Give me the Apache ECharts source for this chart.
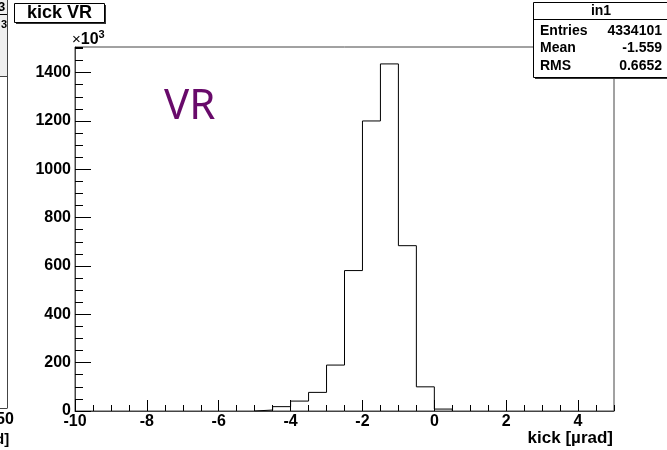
<!DOCTYPE html>
<html><head><meta charset="utf-8">
<script src="https://cdn.jsdelivr.net/npm/echarts@6/dist/echarts.min.js"></script>
<style>html,body{margin:0;padding:0;background:#fff}#c{width:667px;height:450px}</style>
</head><body><div id="c"></div>
<script>
// ---- data (counts in units of 10^3) ----
const binLowEdges = [-5, -4.5, -4, -3.5, -3, -2.5, -2, -1.5, -1, -0.5, 0];
const binWidth = 0.5;
const counts = [4, 18, 41, 77, 190, 581, 1200, 1436, 684, 100, 8];
const xTickLabels = [-10, -8, -6, -4, -2, 0, 2, 4];
const yTickLabels = [0, 200, 400, 600, 800, 1000, 1200, 1400];
const histTitle = 'kick VR';
const xTitle = 'kick [\u00b5rad]';
const statsTitle = 'in1';
const statsNames = ['Entries', 'Mean', 'RMS'];
const statsValues = ['4334101', '-1.559', '0.6652'];

// step points for histogram outline
const stepPts = [[binLowEdges[0], 0]];
for (let i = 0; i < counts.length; i++) stepPts.push([binLowEdges[i], counts[i]]);
stepPts.push([binLowEdges[binLowEdges.length - 1] + binWidth, 0]);

const F = '"Liberation Sans", Arial, sans-serif';
const LF = '"Liberation Sans", Arial, sans-serif';
const chart = echarts.init(document.getElementById('c'), null, {renderer: 'canvas'});

const statsGraphics = [];
statsNames.forEach((n, i) => {
  statsGraphics.push({type: 'text', left: 540, top: 24 + i * 17.5, z: 101,
    style: {text: n, font: 'bold 14px ' + F, fill: '#000'}});
  statsGraphics.push({type: 'text', right: 5, top: 24 + i * 17.5, z: 101,
    style: {text: statsValues[i], font: 'bold 14px ' + F, fill: '#000', textAlign: 'right'}});
});

const fmtX = v => (xTickLabels.indexOf(v) >= 0 ? String(v) : '');
const fmtY = v => (yTickLabels.indexOf(v) >= 0 ? String(v) : '');

chart.setOption({
  animation: false,
  grid: {left: 75, right: 53, top: 47, bottom: 39, show: true, borderColor: '#444', borderWidth: 1, backgroundColor: '#fff'},
  xAxis: [{
    type: 'value', min: -10, max: 5, interval: 2, position: 'bottom',
    axisLine: {onZero: false, lineStyle: {color: '#444', width: 1}},
    axisTick: {inside: true, length: 11, lineStyle: {color: '#000'}},
    axisLabel: {showMaxLabel: false, formatter: fmtX, color: '#000', fontFamily: LF, fontWeight: 'bold', fontSize: 16, margin: 3},
    splitLine: {show: false}
  }, {
    type: 'value', min: -10, max: 5, interval: 0.5, position: 'bottom',
    axisLine: {show: false, onZero: false},
    axisTick: {inside: true, length: 6, lineStyle: {color: '#000'}},
    axisLabel: {show: false}, splitLine: {show: false}
  }],
  yAxis: [{
    type: 'value', min: 0, max: 1506, interval: 200, position: 'left',
    axisLine: {show: true, onZero: false, lineStyle: {color: '#444', width: 1}},
    axisTick: {show: true, inside: true, length: 16, lineStyle: {color: '#000'}},
    axisLabel: {showMaxLabel: false, formatter: fmtY, color: '#000', fontFamily: LF, fontWeight: 'bold', fontSize: 16, margin: 4},
    splitLine: {show: false}
  }, {
    type: 'value', min: 0, max: 1506, interval: 50, position: 'left',
    axisLine: {show: false, onZero: false},
    axisTick: {show: true, inside: true, length: 8, lineStyle: {color: '#000'}},
    axisLabel: {show: false}, splitLine: {show: false}
  }],
  series: [{
    type: 'line', xAxisIndex: 0, yAxisIndex: 0, step: 'end', data: stepPts,
    symbol: 'none', lineStyle: {color: '#000', width: 1}, z: 5
  }],
  graphic: [
    // neighbouring pad fragment on the left
    {type: 'rect', shape: {x: 0, y: 0, width: 8, height: 76}, style: {fill: '#efefef'}, z: 90},
    {type: 'line', shape: {x1: 0, y1: 14.5, x2: 8, y2: 14.5}, style: {stroke: '#000', lineWidth: 1}, z: 91},
    {type: 'line', shape: {x1: 0, y1: 76.5, x2: 7.5, y2: 76.5}, style: {stroke: '#444', lineWidth: 1}, z: 91},
    {type: 'line', shape: {x1: 7.5, y1: 0, x2: 7.5, y2: 408}, style: {stroke: '#444', lineWidth: 1}, z: 91},
    {type: 'line', shape: {x1: 0, y1: 408.5, x2: 7.5, y2: 408.5}, style: {stroke: '#444', lineWidth: 1}, z: 91},
    {type: 'text', left: -2, top: 1, z: 92, style: {text: '3', font: 'bold 13px ' + F, fill: '#000'}},
    {type: 'text', left: 1, top: 19, z: 92, style: {text: '3', font: 'bold 11px ' + F, fill: '#000'}},
    {type: 'text', left: -4, top: 412, z: 92, style: {text: '50', font: 'bold 16px ' + LF, fill: '#000'}},
    {type: 'text', left: -5, top: 432, z: 92, style: {text: 'd]', font: 'bold 15px ' + F, fill: '#000'}},
    // title box
    {type: 'rect', shape: {x: 16, y: 5, width: 90, height: 19}, style: {fill: '#333'}, z: 93},
    {type: 'rect', shape: {x: 14.5, y: 3.5, width: 90, height: 19}, style: {fill: '#fff', stroke: '#000', lineWidth: 1}, z: 94},
    {type: 'text', x: 59.5, y: 13.5, z: 95, style: {text: histTitle, font: 'bold 18px ' + F, fill: '#000', textAlign: 'center', textVerticalAlign: 'middle'}},
    // x10^3
    {type: 'text', left: 72, top: 29, z: 95, style: {
      text: '{a|\u00d7}{b|10}{c|3}', rich: {
        a: {font: '15px ' + F, fill: '#000'},
        b: {font: 'bold 16px ' + F, fill: '#000'},
        c: {font: 'bold 11px ' + F, fill: '#000', verticalAlign: 'top', padding: [0, 0, 10, 0]}
      }}},
    // VR label
    {type: 'text', left: 164, top: 86, z: 95, style: {text: 'VR', font: '42px "Noto Sans", sans-serif', fill: '#680a6a'}},
    // x axis title
    {type: 'text', right: 54, top: 430, z: 95, style: {text: xTitle, font: 'bold 17px ' + F, fill: '#000'}},
    // stats box
    {type: 'rect', shape: {x: 535, y: 4, width: 140, height: 75}, style: {fill: '#333'}, z: 98},
    {type: 'rect', shape: {x: 533.5, y: 2.5, width: 140, height: 75}, style: {fill: '#fff', stroke: '#000', lineWidth: 1}, z: 99},
    {type: 'line', shape: {x1: 533.5, y1: 19.5, x2: 667, y2: 19.5}, style: {stroke: '#000', lineWidth: 1}, z: 100},
    {type: 'text', x: 601, y: 11.5, z: 101, style: {text: statsTitle, font: 'bold 14px ' + F, fill: '#000', textAlign: 'center', textVerticalAlign: 'middle'}}
  ].concat(statsGraphics)
});
</script></body></html>
